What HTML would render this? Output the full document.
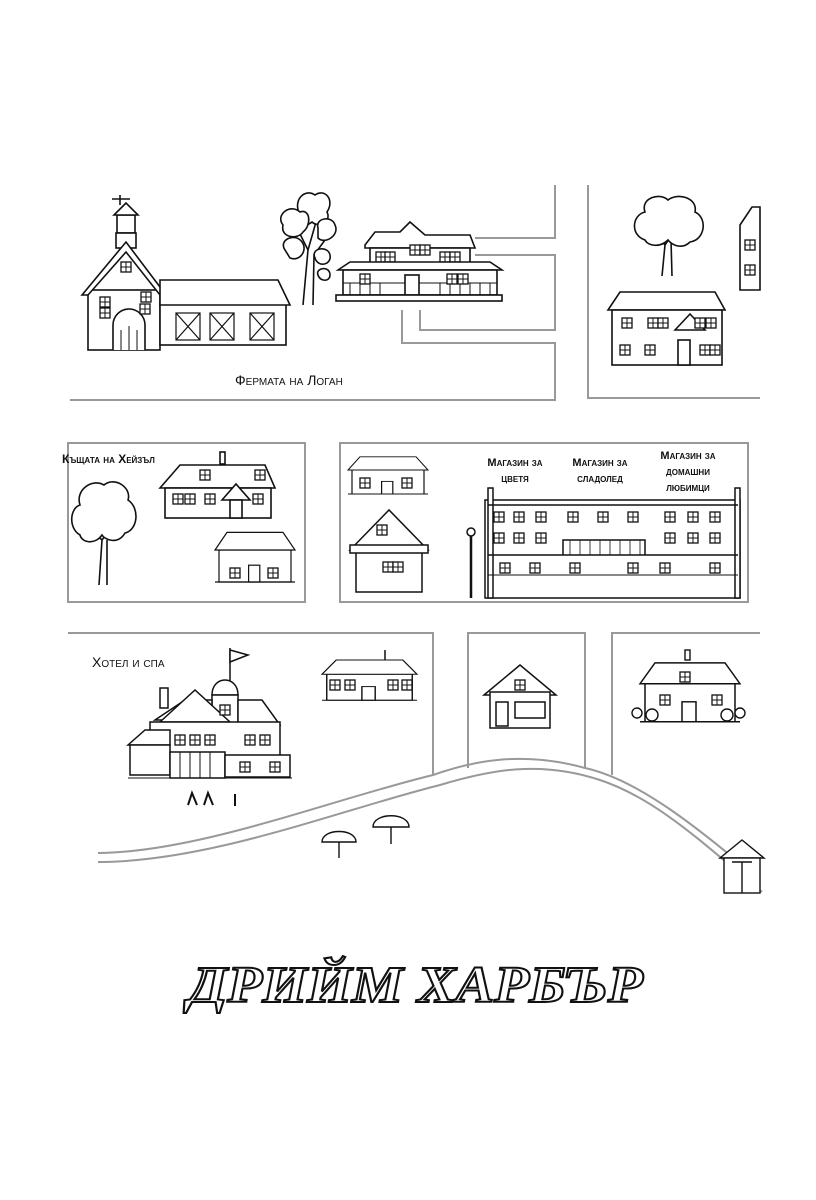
<!DOCTYPE html>
<html><head><meta charset="utf-8"><style>
html,body{margin:0;padding:0;background:#fff;}
svg{display:block}
.l{font-family:"Liberation Sans",sans-serif;font-variant:small-caps;font-size:14px;fill:#111}
</style></head><body>
<svg width="816" height="1200" viewBox="0 0 816 1200" xmlns="http://www.w3.org/2000/svg">
<defs>
<g id="win"><rect x="0" y="0" width="10" height="10" fill="#fff" stroke="#111" stroke-width="1.3"/><path d="M5 0V10M0 5H10" stroke="#111" stroke-width="1"/></g>
<g id="house" stroke="#111" stroke-width="1.5" fill="#fff">
<rect x="5" y="25" width="90" height="40"/>
<polygon points="0,25 15,3 85,3 100,25"/>
<rect x="42" y="44" width="14" height="21"/>
<path d="M0 65H100"/>
</g>
</defs>
<g fill="none" stroke="#999" stroke-width="2">
<path d="M70 400H555V343H402V310"/>
<path d="M420 310V330H555V255H475"/>
<path d="M475 238H555V185"/>
<path d="M588 185V398H760"/>
<rect x="68" y="443" width="237" height="159"/>
<rect x="340" y="443" width="408" height="159"/>
<path d="M68 633H433V775"/>
<path d="M468 768V633H585V768"/>
<path d="M612 775V633H760"/>
<path d="M98 853 C200 852 330 800 433 775 C470 762 520 750 585 768 C640 780 700 830 760 880"/>
<path d="M98 862 C210 862 340 810 440 785 C490 770 540 760 600 780 C660 800 710 850 762 892"/>
</g>

<g stroke="#111" stroke-width="1.6" fill="#fff">
<!-- barn -->
<path d="M120 195V205M112 199H130"/>
<rect x="117" y="215" width="18" height="18"/><polygon points="114,215 126,203 138,215"/>
<rect x="116" y="233" width="20" height="15"/>
<rect x="88" y="290" width="72" height="60"/>
<polygon points="82,295 126,242 166,295 160,295 126,252 88,295"/>
<path d="M113 350V325 A16 16 0 0 1 145 325V350" />
<path d="M121 330V350M129 326V350M137 330V350" stroke-width="1"/>
<use href="#win" x="121" y="262"/><use href="#win" x="141" y="292"/><use href="#win" x="140" y="304"/><use href="#win" x="100" y="297"/><use href="#win" x="100" y="308"/>
<rect x="160" y="303" width="126" height="42"/>
<polygon points="160,280 278,280 290,305 160,305"/>
<g stroke-width="1.2"><rect x="176" y="313" width="24" height="27"/><path d="M176 313L200 340M200 313L176 340"/>
<rect x="210" y="313" width="24" height="27"/><path d="M210 313L234 340M234 313L210 340"/>
<rect x="250" y="313" width="24" height="27"/><path d="M250 313L274 340M274 313L250 340"/></g>
<!-- farm tree -->
<path d="M303 305 L308 250 L298 230 M308 250 L318 215 M313 305 L314 255 L325 240"/>
<path d="M300 215 C292 200 305 188 315 195 C325 188 335 200 327 212 C332 222 318 228 312 222 C305 228 295 224 300 215Z"/>
<path d="M283 225 C275 215 290 203 300 212 C310 208 312 225 303 232 C298 240 280 238 283 225Z"/>
<path d="M318 228 C315 218 332 215 335 225 C340 235 325 245 318 238Z"/>
<path d="M285 250 C278 240 295 232 302 242 C308 250 300 262 290 258Z"/>
<path d="M315 258 C310 248 328 245 330 255 C332 265 318 268 315 258Z"/>
<path d="M318 275 C315 268 330 265 330 275 C330 282 320 282 318 275Z"/>
<!-- farmhouse -->
<polygon points="365,245 375,232 400,232 410,222 425,235 470,235 475,248 365,248"/>
<rect x="370" y="248" width="100" height="20"/>
<use href="#win" x="376" y="252"/><use href="#win" x="385" y="252"/><use href="#win" x="410" y="245"/><use href="#win" x="420" y="245"/><use href="#win" x="440" y="252"/><use href="#win" x="450" y="252"/>
<polygon points="338,270 350,262 490,262 502,270"/>
<rect x="343" y="270" width="154" height="25"/>
<path d="M343 283H497M350 283V295M360 283V295M370 283V295M380 283V295M440 283V295M450 283V295M460 283V295M470 283V295M480 283V295M490 283V295" stroke-width="1"/>
<rect x="405" y="275" width="14" height="20"/>
<rect x="336" y="295" width="166" height="6"/>
<use href="#win" x="360" y="274"/><use href="#win" x="447" y="274"/><use href="#win" x="458" y="274"/>
<!-- top right tree -->
<path d="M662 276 L665 245 L655 232 M665 245 L675 230 M672 276 L671 240"/>
<path d="M645 240 C630 235 632 215 645 212 C640 198 660 192 668 200 C678 192 698 198 695 212 C708 218 705 240 690 242 C682 250 672 245 668 240 C660 248 648 246 645 240Z"/>
<!-- top right house -->
<polygon points="608,310 620,292 715,292 725,310"/>
<rect x="612" y="310" width="110" height="55"/>
<polygon points="675,330 690,314 705,330"/>
<use href="#win" x="622" y="318"/><use href="#win" x="648" y="318"/><use href="#win" x="658" y="318"/><use href="#win" x="695" y="318"/><use href="#win" x="706" y="318"/>
<use href="#win" x="620" y="345"/><use href="#win" x="645" y="345"/><use href="#win" x="700" y="345"/><use href="#win" x="710" y="345"/>
<rect x="678" y="340" width="12" height="25"/>
<polygon points="740,225 752,207 760,207 760,290 740,290"/>
<use href="#win" x="745" y="240"/><use href="#win" x="745" y="265"/>
<!-- hazel tree -->
<path d="M99 585 L102 540 L90 528 M102 540 L113 525 M107 585 L107 540"/>
<path d="M80 535 C68 528 70 508 80 505 C75 490 92 478 104 485 C115 476 132 488 128 500 C140 508 138 530 125 533 C118 545 105 540 102 535 C95 545 82 543 80 535Z"/>
<!-- hazel house -->
<polygon points="160,488 180,465 265,465 275,488"/>
<rect x="165" y="488" width="106" height="30"/>
<rect x="220" y="452" width="5" height="12"/>
<polygon points="222,500 236,484 250,500"/><rect x="230" y="500" width="12" height="18"/>
<use href="#win" x="173" y="494"/><use href="#win" x="185" y="494"/><use href="#win" x="205" y="494"/><use href="#win" x="253" y="494"/>
<use href="#win" x="200" y="470"/><use href="#win" x="255" y="470"/>
</g>
<g transform="translate(215,530) scale(0.8)"><use href="#house"/></g>
<use href="#win" x="230" y="568"/><use href="#win" x="268" y="568"/>
<!-- shops -->
<g transform="translate(348,455) scale(0.8,0.6)"><use href="#house"/></g>
<use href="#win" x="360" y="478"/><use href="#win" x="402" y="478"/>
<g stroke="#111" stroke-width="1.5" fill="#fff">
<polygon points="350,550 389,510 428,550"/>
<rect x="356" y="550" width="66" height="42"/>
<rect x="350" y="545" width="78" height="8"/>
<use href="#win" x="377" y="525"/><use href="#win" x="383" y="562"/><use href="#win" x="393" y="562"/>
<path d="M471 530V598" stroke-width="2.5"/><circle cx="471" cy="532" r="4"/>
<rect x="485" y="500" width="255" height="98"/>
<rect x="488" y="488" width="5" height="110"/><rect x="735" y="488" width="5" height="110"/>
<path d="M488 505H738M488 555H738M563 540H645V555H563Z"/>
<path d="M570 540V555M580 540V555M590 540V555M600 540V555M610 540V555M620 540V555M630 540V555M640 540V555" stroke-width="0.8"/>
<path d="M488 575H738" stroke-width="1"/>
</g>
<g>
<use href="#win" x="494" y="512"/><use href="#win" x="514" y="512"/><use href="#win" x="536" y="512"/><use href="#win" x="568" y="512"/><use href="#win" x="598" y="512"/><use href="#win" x="628" y="512"/><use href="#win" x="665" y="512"/><use href="#win" x="688" y="512"/><use href="#win" x="710" y="512"/>
<use href="#win" x="494" y="533"/><use href="#win" x="514" y="533"/><use href="#win" x="536" y="533"/><use href="#win" x="665" y="533"/><use href="#win" x="688" y="533"/><use href="#win" x="710" y="533"/>
<use href="#win" x="500" y="563"/><use href="#win" x="530" y="563"/><use href="#win" x="570" y="563"/><use href="#win" x="628" y="563"/><use href="#win" x="660" y="563"/><use href="#win" x="710" y="563"/>
</g>
<!-- hotel -->
<g stroke="#111" stroke-width="1.5" fill="#fff">
<path d="M230 648V690"/><polygon points="230,650 248,655 230,662"/>
<path d="M212 695 C212 675 238 675 238 695Z"/>
<rect x="212" y="695" width="26" height="60"/>
<rect x="160" y="688" width="8" height="20"/>
<polygon points="155,720 185,700 212,700 212,720"/>
<polygon points="238,700 262,700 280,725 238,725"/>
<polygon points="160,722 195,690 230,722"/>
<rect x="150" y="722" width="130" height="40"/>
<polygon points="128,745 145,730 170,730 170,745"/>
<rect x="130" y="745" width="40" height="30"/>
<rect x="170" y="752" width="55" height="26"/>
<rect x="225" y="755" width="65" height="22"/>
<path d="M128 778H292M180 752V778M190 752V778M200 752V778M210 752V778" stroke-width="1"/>
<use href="#win" x="220" y="705"/><use href="#win" x="175" y="735"/><use href="#win" x="190" y="735"/><use href="#win" x="205" y="735"/><use href="#win" x="245" y="735"/><use href="#win" x="260" y="735"/><use href="#win" x="240" y="762"/><use href="#win" x="270" y="762"/>
<path d="M188 805L192 793L197 805M204 805L208 793L213 805M235 794V806" stroke-width="2"/>
</g>
<g transform="translate(322,658) scale(0.95,0.65)"><use href="#house"/></g>
<use href="#win" x="330" y="680"/><use href="#win" x="345" y="680"/><use href="#win" x="388" y="680"/><use href="#win" x="402" y="680"/>
<g stroke="#111" stroke-width="1.5" fill="#fff">
<path d="M385 650V660"/>
<polygon points="484,695 520,665 556,695"/>
<rect x="490" y="692" width="60" height="36"/>
<rect x="496" y="702" width="12" height="24"/><rect x="515" y="702" width="30" height="16"/>
<use href="#win" x="515" y="680"/>
</g>
<g transform="translate(640,660) scale(1,0.95)"><use href="#house"/></g>
<use href="#win" x="660" y="695"/><use href="#win" x="712" y="695"/><use href="#win" x="680" y="672"/>
<g stroke="#111" stroke-width="1.4" fill="#fff">
<rect x="685" y="650" width="5" height="10"/>
<circle cx="637" cy="713" r="5"/><circle cx="652" cy="715" r="6"/><circle cx="727" cy="715" r="6"/><circle cx="740" cy="713" r="5"/>
<path d="M322 842 C322 828 356 828 356 842Z"/><path d="M339 842V858"/>
<path d="M373 827 C373 812 409 812 409 827Z"/><path d="M391 827V844"/>
<polygon points="720,858 742,840 764,858"/>
<rect x="724" y="858" width="36" height="35"/>
<path d="M742 862V893M732 862H752"/>
</g>
<!-- labels -->
<text class="l" x="235" y="385" font-size="15">Фермата на Логан</text>
<text class="l" x="62" y="463" style="font-size:12px;font-weight:bold">Къщата на Хейзъл</text>
<text class="l" x="92" y="667" font-size="15">Хотел и спа</text>
<g class="l" style="font-size:11px;font-weight:bold" text-anchor="middle">
<text x="515" y="466">Магазин за</text><text x="515" y="482">цветя</text>
<text x="600" y="466">Магазин за</text><text x="600" y="482">сладолед</text>
<text x="688" y="459">Магазин за</text><text x="688" y="475">домашни</text><text x="688" y="491">любимци</text>
</g>
<text x="188" y="1002" font-family="'Liberation Serif',serif" font-weight="bold" font-style="italic" font-size="52" fill="#fff" stroke="#111" stroke-width="2" textLength="455" lengthAdjust="spacingAndGlyphs">ДРИЙМ ХАРБЪР</text>
</svg>
</body></html>
